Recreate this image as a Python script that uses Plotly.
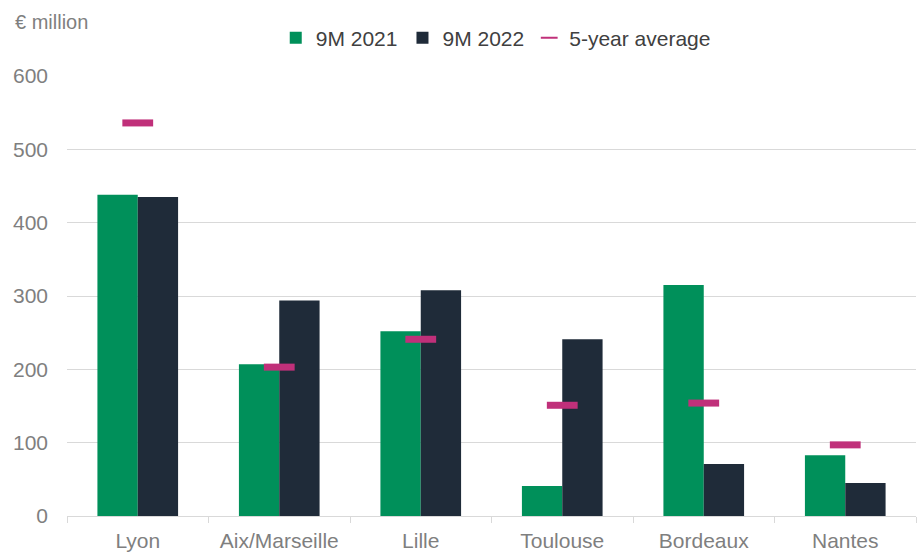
import plotly.graph_objects as go

categories = ["Lyon", "Aix/Marseille", "Lille", "Toulouse", "Bordeaux", "Nantes"]
v2021 = [438, 207, 252, 41, 315, 83]
v2022 = [435, 294, 308, 241, 71, 45]
avg5 = [536, 203, 241, 151, 154, 97]
yticks = [0, 100, 200, 300, 400, 500, 600]

GREEN = "#00905A"
DARK = "#1F2B39"
PINK = "#C0307A"
GRID = "#D9D9D9"
TXT = "#7F7F7F"
FONT = "Liberation Sans, Arial, sans-serif"

fig = go.Figure()
fig.add_trace(go.Bar(name="9M 2021", x=categories, y=v2021, marker=dict(color=GREEN, line=dict(width=0))))
fig.add_trace(go.Bar(name="9M 2022", x=categories, y=v2022, marker=dict(color=DARK, line=dict(width=0))))
fig.add_trace(go.Scatter(name="5-year average", x=categories, y=avg5, mode="markers",
                         marker=dict(symbol="line-ew", size=22, color=PINK,
                                     line=dict(color=PINK, width=7))))

fig.update_layout(
    width=924, height=553,
    margin=dict(l=67, r=8, t=76, b=37),
    plot_bgcolor="white", paper_bgcolor="white",
    barmode="group", bargap=0.43, bargroupgap=0,
    font=dict(family=FONT, size=21, color=TXT),
    legend=dict(orientation="h", x=0.505, xanchor="center", y=1.086, yanchor="middle",
                font=dict(size=21, color="#404040"), itemsizing="constant",
                itemwidth=30, tracegroupgap=0, bgcolor="rgba(0,0,0,0)"),
    showlegend=True,
    annotations=[dict(text="€ million", xref="paper", yref="paper",
                      x=(13 - 67) / 849, y=1 + (76 - 22) / 440,
                      xanchor="left", yanchor="middle",
                      showarrow=False, font=dict(size=20, color=TXT))],
)

fig.update_xaxes(showgrid=False, showline=True, linecolor=GRID, linewidth=1,
                 ticks="outside", tickson="boundaries", ticklen=6, tickcolor=GRID,
                 ticklabelstandoff=6, automargin=False,
                 tickfont=dict(size=21, color=TXT))
fig.update_yaxes(range=[0, 600], tickvals=yticks, showgrid=True, gridcolor=GRID, gridwidth=1,
                 zeroline=False, showline=False, ticks="", ticklabelstandoff=18,
                 automargin=False,
                 tickfont=dict(size=21, color=TXT))

fig.write_html("out.html")
